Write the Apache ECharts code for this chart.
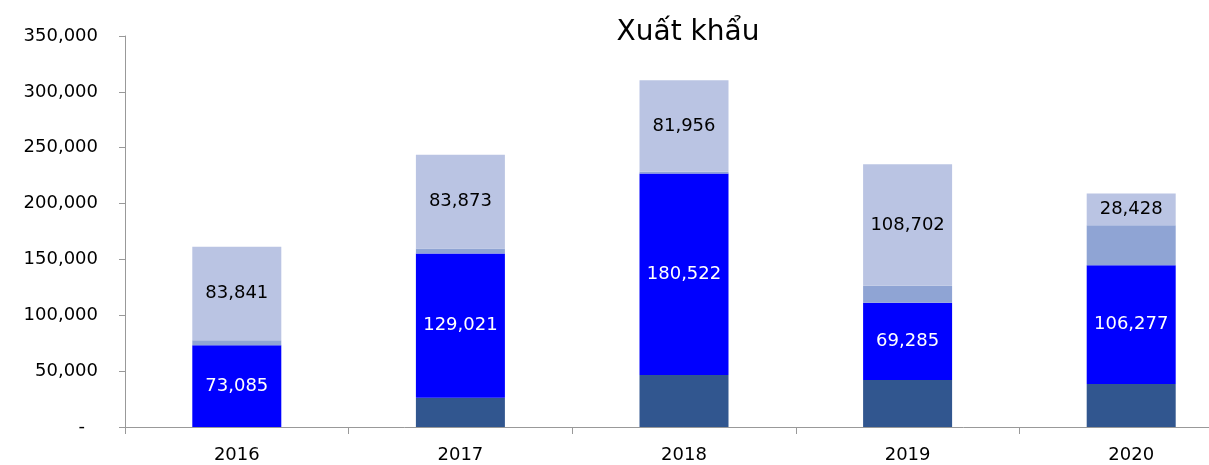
<!DOCTYPE html>
<html>
<head>
<meta charset="utf-8">
<script src="https://cdn.jsdelivr.net/npm/echarts@6/dist/echarts.min.js"></script>
<style>
  html, body { margin: 0; padding: 0; background: #fff; overflow: hidden; }
  #chart { width: 1243px; height: 465px; }
</style>
</head>
<body>
<div id="chart"></div>
<script>
var years = ['2016', '2017', '2018', '2019', '2020'];
// stacked segments, bottom to top
var darkPart = [0, 26200, 46500, 42000, 38500];
var bluePart = [73085, 129021, 180522, 69285, 106277];
var midPart = [4500, 4500, 1500, 15200, 35800];
var topPart = [83841, 83873, 81956, 108702, 28428];

var FONT = "Tahoma, 'DejaVu Sans', sans-serif";

function fmt(v) {
    return String(v).replace(/\B(?=(\d{3})+(?!\d))/g, ',');
}

// the plot runs past the right edge of the 1209px window, as in the original
var chart = echarts.init(document.getElementById('chart'));
var option = {
    animation: false,
    title: {
        text: 'Xuất khẩu',
        left: 683,
        top: 14,
        textAlign: 'center',
        textStyle: { fontFamily: FONT, fontSize: 28, fontWeight: 'normal', color: '#000' }
    },
    grid: { left: 125, right: 0, top: 36, bottom: 38 },
    xAxis: {
        type: 'category',
        data: years,
        axisLine: { lineStyle: { color: '#999', width: 1 } },
        axisTick: { show: true, length: 7, lineStyle: { color: '#999' } },
        axisLabel: { margin: 19, fontFamily: FONT, fontSize: 18, color: '#000' }
    },
    yAxis: {
        type: 'value',
        min: 0,
        max: 350000,
        interval: 50000,
        splitLine: { show: false },
        axisLine: { show: true, lineStyle: { color: '#999', width: 1 } },
        axisTick: { show: true, length: 6, lineStyle: { color: '#999' } },
        axisLabel: {
            margin: 27,
            fontFamily: FONT,
            fontSize: 18,
            color: '#000',
            formatter: function (v) {
                return v === 0 ? '{z|-}' : fmt(v);
            },
            rich: { z: { fontFamily: FONT, fontSize: 18, color: '#000', padding: [0, 13, 0, 0] } }
        }
    },
    series: [
        {
            name: 'a', type: 'bar', stack: 'x', barWidth: 89, data: darkPart,
            itemStyle: { color: '#31568F' }
        },
        {
            name: 'b', type: 'bar', stack: 'x', data: bluePart,
            itemStyle: { color: '#0000FF' },
            label: {
                show: true, position: 'inside', color: '#fff',
                fontFamily: FONT, fontSize: 18,
                formatter: function (p) { return fmt(p.value); }
            }
        },
        {
            name: 'c', type: 'bar', stack: 'x', data: midPart,
            itemStyle: { color: '#8FA4D4' }
        },
        {
            name: 'd', type: 'bar', stack: 'x', data: topPart,
            itemStyle: { color: '#BAC4E3' },
            label: {
                show: true, position: 'inside', color: '#000',
                fontFamily: FONT, fontSize: 18,
                formatter: function (p) { return fmt(p.value); }
            }
        }
    ]
};
chart.setOption(option);
</script>
</body>
</html>
